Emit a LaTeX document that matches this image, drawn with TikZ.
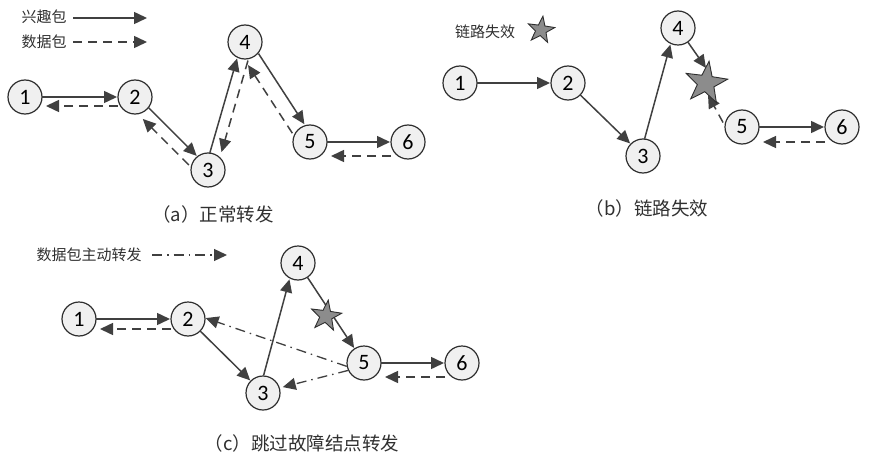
\documentclass[tikz,border=0pt]{standalone}
\usepackage{fontspec}
\setmainfont{Carlito}
\newfontfamily\cjk{Noto Sans CJK SC}
\usetikzlibrary{arrows.meta,calc,shapes.geometric}
\definecolor{ln}{HTML}{404040}
\definecolor{bd}{HTML}{2E2E2E}
\definecolor{nf}{HTML}{F0F0F0}
\definecolor{sf}{HTML}{8C8C8C}
\definecolor{tx}{HTML}{303030}
\tikzset{
 nd/.style={circle,draw=bd,fill=nf,line width=1.2pt,minimum size=34pt,inner sep=0pt,text=black,font=\fontsize{22}{22}\selectfont},
 arrtip/.style={-{Triangle[length=13pt,width=12pt]}},
 sol/.style={draw=ln,line width=1.5pt,arrtip,shorten <=17pt,shorten >=18pt},
 dsh/.style={draw=ln,line width=1.5pt,dash pattern=on 9pt off 6pt,arrtip,shorten <=17pt,shorten >=21pt},
 ddot/.style={draw=ln,line width=1.3pt,dash pattern=on 10pt off 5pt on 1.5pt off 5pt,arrtip},
 fail/.style={star,star points=5,star point ratio=2.5,draw=bd,fill=sf,line width=0.9pt,inner sep=0pt,shape border rotate=-8},
 lbl/.style={font=\cjk\fontsize{15}{15}\selectfont,inner sep=0pt,text=tx},
 captxt/.style={font=\cjk\fontsize{18.5}{18.5}\selectfont,inner sep=0pt,text=tx},
}
\newcommand\lnk[4]{\draw[#1] ($(#2)!#4!90:(#3)$) -- ($(#3)!#4!-90:(#2)$);}
\begin{document}
\begin{tikzpicture}[x=1pt,y=-1pt]
\useasboundingbox (0,0) rectangle (869,468);
% ---------- legend (a)
\node[lbl] (t1) at (44,17) {兴趣包};
\node[lbl] (t2) at (44,42) {数据包};
\coordinate (l1a) at (73,18); \coordinate (l1b) at (147,18);
\coordinate (l2a) at (73,42); \coordinate (l2b) at (147,42);
\draw[draw=ln,line width=1.5pt,arrtip] (l1a) -- (l1b);
\draw[draw=ln,line width=1.5pt,arrtip,dash pattern=on 9pt off 6pt] (l2a) -- (l2b);
% ---------- panel (a)
\node[nd] (a1) at (25,97) {1};
\node[nd] (a2) at (135,97) {2};
\node[nd] (a3) at (208,170) {3};
\node[nd] (a4) at (245,42) {4};
\node[nd] (a5) at (310,142) {5};
\node[nd] (a6) at (408,142) {6};
\lnk{sol}{a1}{a2}{0pt}
\lnk{dsh}{a2}{a1}{9pt}
\lnk{sol}{a2}{a3}{2pt}
\lnk{dsh}{a3}{a2}{10pt}
\lnk{sol}{a3}{a4}{3pt}
\lnk{dsh}{a4}{a3}{8pt}
\lnk{sol}{a4}{a5}{5pt}
\lnk{dsh}{a5}{a4}{10pt}
\lnk{sol}{a5}{a6}{0pt}
\lnk{dsh}{a6}{a5}{14pt}
\node[captxt] (capa) at (213,214) {（a）正常转发};
% ---------- legend (b)
\node[lbl] (t3) at (485,32) {链路失效};
\node[fail,minimum size=28pt] (lstar) at (541,30) {};
% ---------- panel (b)
\node[nd] (b1) at (460,83) {1};
\node[nd] (b2) at (568,83) {2};
\node[nd] (b3) at (643,156) {3};
\node[nd] (b4) at (678,28) {4};
\node[nd] (b5) at (742,127) {5};
\node[nd] (b6) at (842,127) {6};
\coordinate (bx1) at (706,68);
\coordinate (bx2) at (708,95);
\lnk{sol}{b1}{b2}{0pt}
\lnk{sol}{b2}{b3}{0pt}
\lnk{sol}{b3}{b4}{3pt}
\draw[sol,shorten <=0pt,shorten >=0pt] (b4) -- (bx1);
\draw[dsh,shorten <=3pt,shorten >=0pt] (b5.174) -- (bx2);
\node[fail,minimum size=44pt] (bstar) at (706,83) {};
\lnk{sol}{b5}{b6}{0pt}
\lnk{dsh}{b6}{b5}{15pt}
\node[captxt] (capb) at (647,208) {（b）链路失效};
% ---------- legend (c)
\node[lbl] (t4) at (89,255) {数据包主动转发};
\coordinate (l3a) at (152,255); \coordinate (l3b) at (227,255);
\draw[ddot] (l3a) -- (l3b);
% ---------- panel (c)
\node[nd] (c1) at (79,319) {1};
\node[nd] (c2) at (188,319) {2};
\node[nd] (c3) at (263,393) {3};
\node[nd] (c4) at (298,263) {4};
\node[nd] (c5) at (364,363) {5};
\node[nd] (c6) at (462,363) {6};
\lnk{sol}{c1}{c2}{0pt}
\lnk{dsh}{c2}{c1}{10pt}
\lnk{sol}{c2}{c3}{0pt}
\lnk{sol}{c3}{c4}{4pt}
\lnk{sol}{c4}{c5}{0pt}
\node[fail,minimum size=32pt] (cstar) at (326,316) {};
\draw[ddot] (c5.191) -- (c2.3);
\draw[ddot,shorten >=3pt] (c5.205) -- (c3.17);
\lnk{sol}{c5}{c6}{0pt}
\lnk{dsh}{c6}{c5}{14pt}
\node[captxt] (capc) at (302,443) {（c）跳过故障结点转发};
\end{tikzpicture}
\end{document}
